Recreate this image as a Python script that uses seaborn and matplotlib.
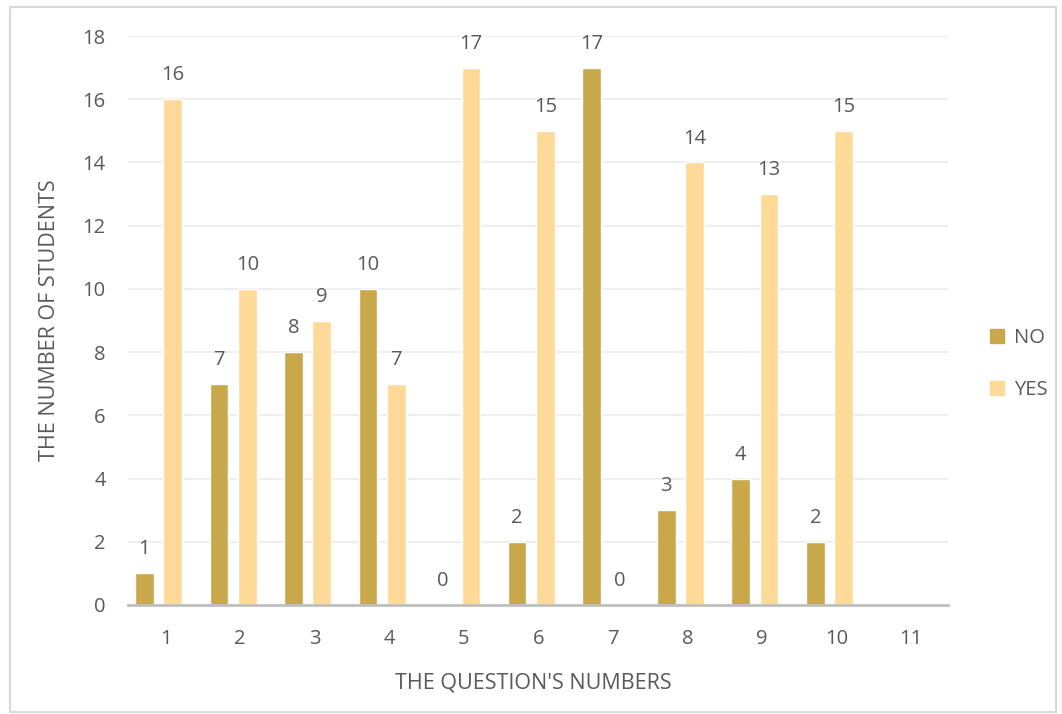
import numpy as np
import pandas as pd
import matplotlib
matplotlib.use("Agg")
import matplotlib.pyplot as plt
import matplotlib.transforms as mtransforms
from matplotlib.patches import Rectangle
import seaborn as sns

# Survey answers per question
questions = ["1", "2", "3", "4", "5", "6", "7", "8", "9", "10"]
all_questions = questions + ["11"]
no_counts = [1, 7, 8, 10, 0, 2, 17, 3, 4, 2]
yes_counts = [16, 10, 9, 7, 17, 15, 0, 14, 13, 15]
answers = ["NO", "YES"]
y_ticks = [0, 2, 4, 6, 8, 10, 12, 14, 16, 18]

df = pd.DataFrame({
    "question": questions * 2,
    "answer": ["NO"] * len(questions) + ["YES"] * len(questions),
    "count": no_counts + yes_counts,
})

sns.set_theme(style="white")
plt.rcParams["font.family"] = ["Open Sans", "DejaVu Sans"]
text_color = "#595959"

fig = plt.figure(figsize=(10.62, 7.14), dpi=100)
ax = fig.add_axes([128 / 1062, 1 - 605 / 714, 820 / 1062, 569 / 714])

palette = {"NO": "#C9A84B", "YES": "#FFD998"}
sns.barplot(data=df, x="question", y="count", hue="answer", order=all_questions,
            hue_order=answers, palette=palette, width=0.76, gap=0.34,
            saturation=1, ax=ax, legend=False, errorbar=None)

for cont in ax.containers:
    ax.bar_label(cont, fmt="%g", padding=10, fontsize=14.5, color=text_color)

ax.set_ylim(0, 18)
ax.set_yticks(y_ticks)
# bar pairs sit a little left of each category label
ax.set_xlim(-0.41, 10.59)
ax.grid(axis="y", color="#EBEBEB", linewidth=1.2)
ax.set_axisbelow(True)
for side in ["left", "right", "top"]:
    ax.spines[side].set_visible(False)
ax.spines["bottom"].set_color("#BFBFBF")
ax.spines["bottom"].set_linewidth(2)

ax.tick_params(axis="both", length=0, labelsize=14.5, labelcolor=text_color)
ax.tick_params(axis="y", pad=16)
ax.tick_params(axis="x", pad=17)
shift = mtransforms.ScaledTranslation(7 / 100, 0, fig.dpi_scale_trans)
for lab in ax.get_xticklabels():
    lab.set_transform(lab.get_transform() + shift)

ax.set_xlabel("THE QUESTION'S NUMBERS", fontsize=15.5, color=text_color)
ax.set_ylabel("THE NUMBER OF STUDENTS", fontsize=15.5, color=text_color)
ax.xaxis.set_label_coords(0.5 - 0.5 / 820 * 10, -(673 - 605) / 569)
ax.yaxis.set_label_coords(-(128 - 60) / 820, 0.5)

handles = [Rectangle((0, 0), 1, 1, color=palette[a]) for a in answers]
fig.legend(handles, answers, loc="center left", bbox_to_anchor=(0.915, 0.49),
           frameon=False, fontsize=14.5, labelcolor=text_color,
           handlelength=0.7, handleheight=0.7, handletextpad=0.5,
           labelspacing=1.6)

fig.patches.append(Rectangle((10 / 1062, 2 / 714), 1046 / 1062, 705 / 714,
                             transform=fig.transFigure, fill=False,
                             edgecolor="#D9D9D9", linewidth=1.5))

fig.savefig("out.png", dpi=100, facecolor="white")
